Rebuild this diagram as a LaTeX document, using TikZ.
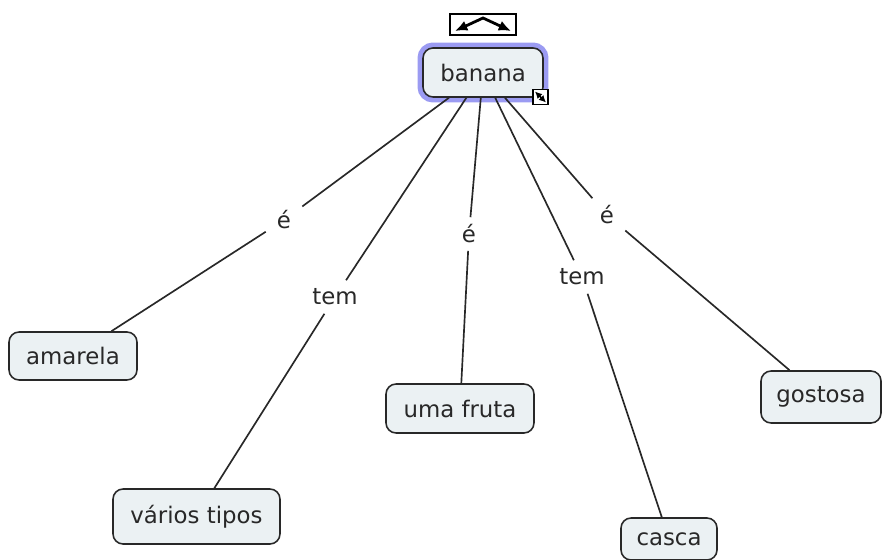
\documentclass[tikz,border=0pt]{standalone}
\usepackage{fontspec}
\setmainfont{DejaVu Sans}
\usetikzlibrary{arrows.meta}
\definecolor{cfill}{RGB}{235,241,243}
\definecolor{cline}{RGB}{40,40,40}
\definecolor{glow}{RGB}{155,155,242}
\begin{document}
\begin{tikzpicture}
			[x=0.02cm,y=-0.02cm,every node/.style={rounded corners=0.2cm,
			draw=cline, line width=0.9pt,
			fill=cfill, text=cline, inner sep=0pt,
			font=\fontsize{13}{15}\selectfont},
			lbl/.style={draw=none, fill=none, rounded corners=0pt,
			minimum width=0.7cm, minimum height=0.64cm},
			icon/.style={rounded corners=0pt, fill=white, draw=black, line width=1.1pt}]
			\useasboundingbox (0,0) rectangle (882,560);

			\node [minimum width=2.4cm, minimum height=0.98cm,
				preaction={draw=glow, line width=0.22cm}]
				(banana) at (483,72.5) {banana};

			\node [minimum width=2.56cm, minimum height=0.96cm] (amarela) at (73,356)   {amarela};
			\node [minimum width=3.34cm, minimum height=1.1cm]  (tipos)   at (196.5,516.5) {vários tipos};
			\node [minimum width=2.96cm, minimum height=0.98cm] (fruta)   at (460,408.5) {uma fruta};
			\node [minimum width=1.92cm, minimum height=0.84cm] (casca)   at (669,539)   {casca};
			\node [minimum width=2.4cm, minimum height=1.04cm]  (gostosa) at (821,397)   {gostosa};

			\node [lbl] (e1)   at (284,220) {é};
			\node [lbl] (tem1) at (335,297) {tem};
			\node [lbl] (e2)   at (469,234) {é};
			\node [lbl] (tem2) at (582,277) {tem};
			\node [lbl] (e3)   at (607,215) {é};

			%%icons
			\node [icon, minimum width=1.32cm, minimum height=0.42cm] (layout) at (483,24.5) {};
			\coordinate (vl) at (455,31);
			\coordinate (vt) at (483,18);
			\coordinate (vr) at (511,31);
			\draw[line width=1.6pt, {Latex[length=7pt,width=6pt]}-{Latex[length=7pt,width=6pt]}]
				(vl) -- (vt) -- (vr);
			\node [icon, minimum size=0.3cm] (resize) at (540.5,97) {};
			\coordinate (ra) at (535,91.5);
			\coordinate (rb) at (546,102.5);
			\draw[line width=0.9pt, {Latex[length=4pt,width=4pt]}-{Latex[length=4pt,width=4pt]}]
				(ra) -- (rb);

			\foreach \from/\to in {banana/e1,banana/tem1,banana/e2,banana/tem2,banana/e3}
			\draw[cline, line width=0.95pt] (\from) -- (\to);

			\foreach \from/\to in {e1/amarela,tem1/tipos,e2/fruta,tem2/casca,e3/gostosa}
			\draw[cline, line width=0.95pt] (\from) -- (\to);
\end{tikzpicture}
\end{document}
